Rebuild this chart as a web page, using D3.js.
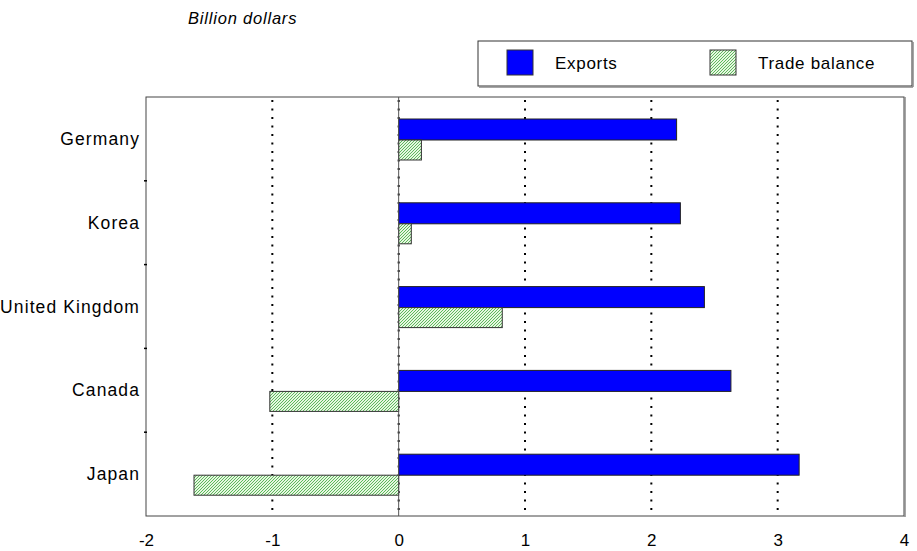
<!DOCTYPE html>
<html><head><meta charset="utf-8">
<script src="https://cdn.jsdelivr.net/npm/d3@7"></script>
<style>body{margin:0;background:#fff}svg{display:block;font-family:"Liberation Sans",Arial,sans-serif}</style>
</head><body>
<svg id="c" width="917" height="551"></svg>
<script>
const categories = ["Germany","Korea","United Kingdom","Canada","Japan"];
const exportsVals = [2.20, 2.23, 2.42, 2.63, 3.17];
const balanceVals = [0.18, 0.10, 0.82, -1.02, -1.62];
const xTicks = [-2,-1,0,1,2,3,4];
const gridTicks = [-1,0,1,2,3];
const seriesNames = ["Exports","Trade balance"];

const svg = d3.select("#c");
const L=146, R=904, T=97, B=516;
const x = d3.scaleLinear().domain([-2,4]).range([L,R]);
const y = d3.scaleBand().domain(categories).range([T,B]).paddingInner(0).paddingOuter(0);

const defs = svg.append("defs");
const pat = defs.append("pattern").attr("id","hatch").attr("patternUnits","userSpaceOnUse")
  .attr("width",3).attr("height",3);
pat.append("rect").attr("width",3).attr("height",3).attr("fill","#e6f6e0");
pat.append("path").attr("d","M-1,1 L1,-1 M0,3 L3,0 M2,4 L4,2").attr("stroke","#5cb85c").attr("stroke-width",1);

// title
svg.append("text").attr("x",188).attr("y",24).attr("font-size",16.5).attr("font-style","italic")
  .attr("letter-spacing",0.8).text("Billion dollars");

// frame
svg.append("rect").attr("x",L).attr("y",T).attr("width",R-L).attr("height",B-T)
  .attr("fill","#fff").attr("stroke","#444").attr("stroke-width",1);
svg.append("line").attr("x1",R+1).attr("x2",R+1).attr("y1",T).attr("y2",B+1).attr("stroke","#888").attr("stroke-width",1.5);

// grid
svg.append("g").selectAll("line").data(gridTicks).join("line")
  .attr("x1",d=>x(d)).attr("x2",d=>x(d)).attr("y1",T+3).attr("y2",B)
  .attr("stroke","#000").attr("stroke-width",2).attr("stroke-dasharray","2,6.5");

// category boundary ticks
svg.append("g").selectAll("line").data(categories.slice(1)).join("line")
  .attr("x1",L-2).attr("x2",L+1).attr("y1",d=>y(d)).attr("y2",d=>y(d)).attr("stroke","#000").attr("stroke-width",1.5);

// bars
const bh = 21, off = 22;
const g = svg.append("g");
g.selectAll("rect.e").data(categories).join("rect").attr("class","e")
  .attr("x",x(0)).attr("y",d=>y(d)+off).attr("width",(d,i)=>x(exportsVals[i])-x(0)).attr("height",bh)
  .attr("fill","#0000ff").attr("stroke","#222").attr("stroke-width",1);
g.selectAll("rect.b").data(categories).join("rect").attr("class","b")
  .attr("x",(d,i)=>x(Math.min(0,balanceVals[i]))).attr("y",d=>y(d)+off+bh)
  .attr("width",(d,i)=>Math.abs(x(balanceVals[i])-x(0))).attr("height",bh-1)
  .attr("fill","url(#hatch)").attr("stroke","#333").attr("stroke-width",1);

// zero line
svg.append("line").attr("x1",x(0)).attr("x2",x(0)).attr("y1",T).attr("y2",B).attr("stroke","#555").attr("stroke-width",1);

// category labels
svg.append("g").selectAll("text").data(categories).join("text")
  .attr("x",L-6).attr("y",d=>y(d)+y.bandwidth()/2+6).attr("text-anchor","end")
  .attr("font-size",17.5).attr("letter-spacing",1.1).attr("fill","#000").text(d=>d);

// x axis labels
const xa = svg.append("g").attr("transform",`translate(0,${B})`)
  .call(d3.axisBottom(x).tickValues(xTicks).tickSize(0).tickPadding(18).tickFormat(d=>String(d)));
xa.select(".domain").remove();
xa.selectAll("text").attr("font-size",17).attr("font-family","Liberation Sans, Arial, sans-serif").attr("fill","#000");

// legend
const lg = svg.append("g");
lg.append("rect").attr("x",478).attr("y",41).attr("width",434).attr("height",45).attr("fill","#fff").attr("stroke","#333");
lg.append("line").attr("x1",479).attr("x2",913).attr("y1",87).attr("y2",87).attr("stroke","#888").attr("stroke-width",1.5);
lg.append("line").attr("x1",913).attr("x2",913).attr("y1",42).attr("y2",87).attr("stroke","#888").attr("stroke-width",1.5);
const lx = [507, 710];
const fills = ["#0000ff","url(#hatch)"];
seriesNames.forEach((n,i)=>{
  lg.append("rect").attr("x",lx[i]).attr("y",50).attr("width",26).attr("height",25).attr("fill",fills[i]).attr("stroke","#333");
  lg.append("text").attr("x",lx[i]+48).attr("y",69).attr("font-size",17).attr("letter-spacing",0.7).text(n);
});
</script>
</body></html>
